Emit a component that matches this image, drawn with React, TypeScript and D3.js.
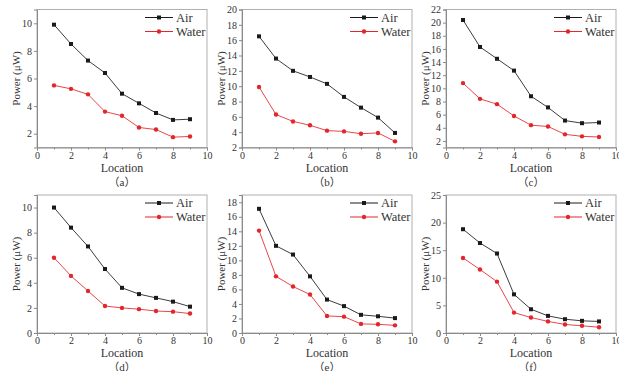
import React, { useEffect, useRef } from 'react';
import * as d3 from 'd3';

// location index along the x axis
const locations = [1, 2, 3, 4, 5, 6, 7, 8, 9];

const airA = [9.9, 8.5, 7.3, 6.4, 4.9, 4.2, 3.5, 3.0, 3.05];
const waterA = [5.5, 5.25, 4.85, 3.6, 3.3, 2.45, 2.3, 1.75, 1.8];
const airB = [16.5, 13.6, 12.0, 11.2, 10.3, 8.6, 7.2, 5.9, 3.9];
const waterB = [9.9, 6.3, 5.4, 4.9, 4.2, 4.1, 3.8, 3.9, 2.8];
const airC = [20.4, 16.3, 14.5, 12.7, 8.8, 7.1, 5.1, 4.7, 4.8];
const waterC = [10.8, 8.4, 7.6, 5.8, 4.4, 4.2, 3.0, 2.7, 2.6];
const airD = [10.0, 8.4, 6.9, 5.1, 3.6, 3.1, 2.8, 2.5, 2.1];
const waterD = [6.0, 4.55, 3.35, 2.15, 2.0, 1.9, 1.75, 1.7, 1.55];
const airE = [17.1, 12.0, 10.8, 7.8, 4.6, 3.7, 2.5, 2.3, 2.05];
const waterE = [14.1, 7.8, 6.4, 5.3, 2.35, 2.25, 1.25, 1.2, 1.05];
const airF = [18.8, 16.3, 14.4, 7.0, 4.3, 3.1, 2.5, 2.2, 2.1];
const waterF = [13.6, 11.5, 9.3, 3.7, 2.8, 2.1, 1.55, 1.3, 1.05];

const xTicks = [0, 2, 4, 6, 8, 10];
const xMinorTicks = [1, 3, 5, 7, 9];
const seriesNames = ['Air', 'Water'];
const captions = ['（a）', '（b）', '（c）', '（d）', '（e）', '（f）'];

const yTicksA = [2, 4, 6, 8, 10];
const yTicksB = [2, 4, 6, 8, 10, 12, 14, 16, 18, 20];
const yTicksC = [2, 4, 6, 8, 10, 12, 14, 16, 18, 20, 22];
const yTicksD = [0, 2, 4, 6, 8, 10];
const yTicksE = [0, 2, 4, 6, 8, 10, 12, 14, 16, 18];
const yTicksF = [0, 5, 10, 15, 20, 25];

const panels = [
  { air: airA, water: waterA, yDomain: [1, 11], yTicks: yTicksA },
  { air: airB, water: waterB, yDomain: [2, 20], yTicks: yTicksB },
  { air: airC, water: waterC, yDomain: [1, 22], yTicks: yTicksC },
  { air: airD, water: waterD, yDomain: [0, 11], yTicks: yTicksD },
  { air: airE, water: waterE, yDomain: [0, 19], yTicks: yTicksE },
  { air: airF, water: waterF, yDomain: [0, 25], yTicks: yTicksF },
];

const colLeft = [37, 242, 446];
const rowTop = [9.5, 195];
const plotW = 170;
const plotH = 138;

const AIR = '#1a1a1a';
const WATER = '#e3262c';
const FRAME = '#8a8a8a';
const TEXT = '#333';
const FONT = '"Liberation Serif", "Times New Roman", "Noto Sans CJK SC", serif';

const App: React.FC = () => {
  const svgRef = useRef<SVGSVGElement>(null);

  useEffect(() => {
    const svg = d3.select(svgRef.current);
    svg.selectAll('*').remove();

    panels.forEach((p, i) => {
      const left = colLeft[i % 3];
      const top = rowTop[Math.floor(i / 3)];
      const g = svg.append('g').attr('transform', `translate(${left},${top})`);

      const x = d3.scaleLinear().domain([0, 10]).range([0, plotW]);
      const y = d3.scaleLinear().domain(p.yDomain as [number, number]).range([plotH, 0]);

      // frame
      g.append('rect')
        .attr('width', plotW)
        .attr('height', plotH)
        .attr('fill', 'none')
        .attr('stroke', '#b0b0b0')
        .attr('stroke-width', 1);

      // x axis
      const xAxis = g.append('g')
        .attr('transform', `translate(0,${plotH})`)
        .call(d3.axisBottom(x).tickValues(xTicks).tickSize(3).tickPadding(1).tickFormat(d3.format('d')));
      g.append('g')
        .attr('transform', `translate(0,${plotH})`)
        .call(d3.axisBottom(x).tickValues(xMinorTicks).tickSize(2).tickFormat(() => ''))
        .select('.domain').remove();

      // y axis
      const yAxis = g.append('g')
        .call(d3.axisLeft(y).tickValues(p.yTicks).tickSize(3).tickPadding(2).tickFormat(d3.format('d')));

      [xAxis, yAxis].forEach(ax => {
        ax.selectAll('text')
          .attr('fill', TEXT)
          .attr('font-size', 10)
          .attr('font-family', FONT);
      });
      g.selectAll('.domain, .tick line').attr('stroke', FRAME);

      // axis labels
      g.append('text')
        .attr('x', plotW / 2)
        .attr('y', plotH + 24)
        .attr('text-anchor', 'middle')
        .attr('fill', TEXT)
        .attr('font-size', 12)
        .attr('font-family', FONT)
        .text('Location');

      g.append('text')
        .attr('transform', 'rotate(-90)')
        .attr('x', -plotH / 2)
        .attr('y', -17)
        .attr('text-anchor', 'middle')
        .attr('fill', TEXT)
        .attr('font-size', 11)
        .attr('font-family', FONT)
        .text('Power (μW)');

      g.append('text')
        .attr('x', plotW / 2)
        .attr('y', plotH + 38)
        .attr('text-anchor', 'middle')
        .attr('fill', TEXT)
        .attr('font-size', 11)
        .attr('font-family', FONT)
        .text(captions[i]);

      // lines and markers
      const series = [
        { name: seriesNames[0], values: p.air, color: AIR, square: true },
        { name: seriesNames[1], values: p.water, color: WATER, square: false },
      ];

      const line = d3.line<number>()
        .x((_d, k) => x(locations[k]))
        .y(d => y(d));

      series.forEach((s, si) => {
        g.append('path')
          .datum(s.values)
          .attr('fill', 'none')
          .attr('stroke', s.color)
          .attr('stroke-width', 1)
          .attr('opacity', 0.85)
          .attr('d', line);

        if (s.square) {
          g.selectAll(`.sq${si}`)
            .data(s.values)
            .enter().append('rect')
            .attr('x', (_d, k) => x(locations[k]) - 2)
            .attr('y', d => y(d) - 2)
            .attr('width', 4)
            .attr('height', 4)
            .attr('fill', s.color);
        } else {
          g.selectAll(`.ci${si}`)
            .data(s.values)
            .enter().append('circle')
            .attr('cx', (_d, k) => x(locations[k]))
            .attr('cy', d => y(d))
            .attr('r', 2.2)
            .attr('fill', s.color);
        }

        // legend
        const ly = 8 + si * 14;
        const lx0 = plotW - 62;
        const lx1 = plotW - 34;
        g.append('line')
          .attr('x1', lx0)
          .attr('x2', lx1)
          .attr('y1', ly)
          .attr('y2', ly)
          .attr('stroke', s.color)
          .attr('stroke-width', 1);
        if (s.square) {
          g.append('rect')
            .attr('x', (lx0 + lx1) / 2 - 2)
            .attr('y', ly - 2)
            .attr('width', 4)
            .attr('height', 4)
            .attr('fill', s.color);
        } else {
          g.append('circle')
            .attr('cx', (lx0 + lx1) / 2)
            .attr('cy', ly)
            .attr('r', 2.2)
            .attr('fill', s.color);
        }
        g.append('text')
          .attr('x', lx1 + 3)
          .attr('y', ly + 4)
          .attr('fill', TEXT)
          .attr('font-size', 12.5)
          .attr('font-family', FONT)
          .text(s.name);
      });
    });
  }, []);

  return (
    <div style={{ position: 'absolute', left: 0, top: 0, width: 619, height: 371, background: '#fff' }}>
      <svg ref={svgRef} width={619} height={371}></svg>
    </div>
  );
};

export default App;
